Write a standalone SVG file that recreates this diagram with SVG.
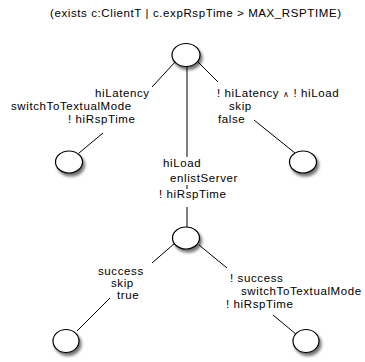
<svg xmlns="http://www.w3.org/2000/svg" width="365" height="362" viewBox="0 0 365 362">
<style>
text{font-family:"Liberation Sans",Arial,Helvetica,sans-serif;font-size:11.5px;letter-spacing:0.6px;fill:#000}
.node ellipse{fill:#fff;stroke:#000;stroke-width:1.2}
.edges line{stroke:#000;stroke-width:1}
</style>
<defs>
<filter id="sh" x="-50%" y="-50%" width="200%" height="200%">
<feDropShadow dx="2" dy="3" stdDeviation="1.8" flood-color="#000" flood-opacity="0.55"/>
</filter>
</defs>
<rect width="365" height="362" fill="#fff"/>
<text id="title" x="50" y="17">(exists c:ClientT | c.expRspTime &gt; MAX_RSPTIME)</text>
<g class="edges" id="connectors">
<line x1="176" y1="61" x2="152" y2="87"/>
<line x1="103" y1="133" x2="79" y2="153"/>
<line x1="197" y1="61" x2="218" y2="82"/>
<line x1="254" y1="120" x2="295" y2="153"/>
<line x1="187" y1="66" x2="187" y2="157"/>
<line x1="187" y1="185" x2="187" y2="189"/>
<line x1="187" y1="207" x2="187" y2="227"/>
<line x1="175" y1="243" x2="152" y2="263"/>
<line x1="110" y1="298" x2="77" y2="331"/>
<line x1="199" y1="245" x2="227" y2="268"/>
<line x1="273" y1="315" x2="297" y2="335"/>
</g>
<g class="node" id="n0"><ellipse cx="186" cy="55" rx="14" ry="11.5" filter="url(#sh)"/></g>
<g class="node" id="n1"><ellipse cx="69" cy="162" rx="13.5" ry="11" filter="url(#sh)"/></g>
<g class="node" id="n2"><ellipse cx="303" cy="162" rx="13.5" ry="11" filter="url(#sh)"/></g>
<g class="node" id="n3"><ellipse cx="186" cy="238" rx="13.5" ry="11" filter="url(#sh)"/></g>
<g class="node" id="n4"><ellipse cx="66" cy="341" rx="13" ry="11.5" filter="url(#sh)"/></g>
<g class="node" id="n5"><ellipse cx="306" cy="341" rx="13" ry="11.5" filter="url(#sh)"/></g>
<g id="labels">
<text x="95" y="97">hiLatency</text>
<text x="11" y="110">switchToTextualMode</text>
<text x="68" y="123">! hiRspTime</text>
<text x="217" y="97">! hiLatency <tspan font-size="8">∧</tspan> ! hiLoad</text>
<text x="229" y="110">skip</text>
<text x="218" y="123">false</text>
<text x="163" y="167">hiLoad</text>
<text x="170" y="182">enlistServer</text>
<text x="159" y="198">! hiRspTime</text>
<text x="98" y="275">success</text>
<text x="111" y="287">skip</text>
<text x="117" y="299">true</text>
<text x="230" y="282">! success</text>
<text x="241" y="295">switchToTextualMode</text>
<text x="226" y="308">! hiRspTime</text>
</g>
</svg>
